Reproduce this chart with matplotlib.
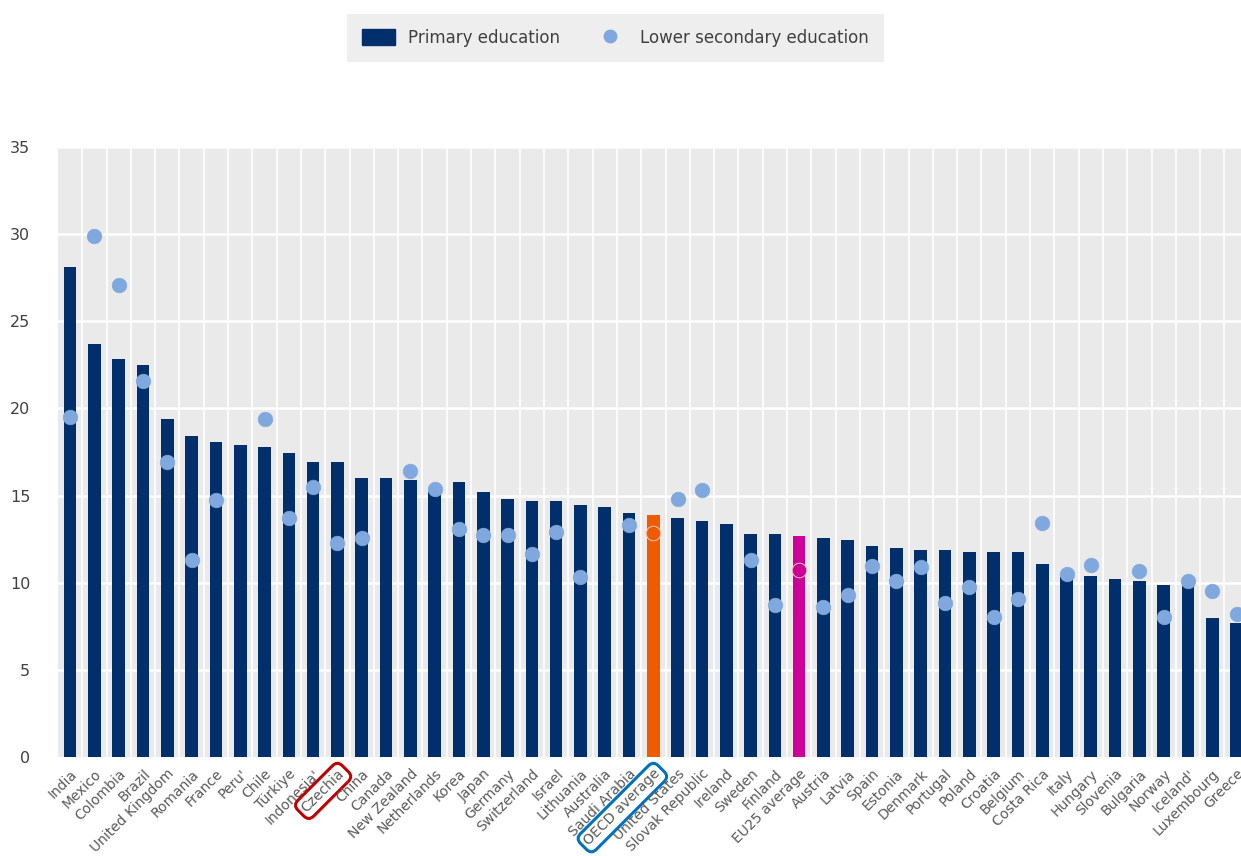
import matplotlib
matplotlib.use("Agg")
import matplotlib.pyplot as plt
import numpy as np
from matplotlib.patches import Patch
from matplotlib.lines import Line2D

# Data
countries = [
    "India", "Mexico", "Colombia", "Brazil", "United Kingdom", "Romania", "France",
    "Peru'", "Chile", "Türkiye", "Indonesia'", "Czechia", "China", "Canada",
    "New Zealand", "Netherlands", "Korea", "Japan", "Germany", "Switzerland",
    "Israel", "Lithuania", "Australia", "Saudi Arabia", "OECD average",
    "United States", "Slovak Republic", "Ireland", "Sweden", "Finland",
    "EU25 average", "Austria", "Latvia", "Spain", "Estonia", "Denmark",
    "Portugal", "Poland", "Croatia", "Belgium", "Costa Rica", "Italy", "Hungary",
    "Slovenia", "Bulgaria", "Norway", "Iceland'", "Luxembourg", "Greece",
]
primary = [
    28.1, 23.7, 22.85, 22.5, 19.4, 18.4, 18.1, 17.9, 17.8, 17.45, 16.9, 16.9,
    16.0, 16.0, 15.9, 15.2, 15.8, 15.2, 14.8, 14.7, 14.7, 14.45, 14.35, 14.0,
    13.9, 13.7, 13.55, 13.35, 12.8, 12.8, 12.7, 12.55, 12.45, 12.1, 12.0, 11.9,
    11.9, 11.75, 11.75, 11.75, 11.1, 10.3, 10.4, 10.2, 10.1, 9.85, 9.8, 7.95, 7.7,
]
lower_secondary = [
    19.5, 29.9, 27.1, 21.6, 16.9, 11.3, 14.75, None, 19.4, 13.7, 15.5, 12.3,
    12.55, None, 16.4, 15.35, 13.1, 12.75, 12.75, 11.65, 12.9, 10.3, None, 13.3,
    12.85, 14.8, 15.3, None, 11.3, 8.7, 10.7, 8.6, 9.3, 10.95, 10.1, 10.9,
    8.85, 9.75, 8.05, 9.05, 13.45, 10.5, 11.0, None, 10.65, 8.05, 10.1, 9.55, 8.2,
]

NAVY = "#002F6C"
LIGHT = "#7FA9DE"
ORANGE = "#F05A00"
MAGENTA = "#CC0099"
highlight = {"OECD average": ORANGE, "EU25 average": MAGENTA}
boxed = {"Czechia": "#C00000", "OECD average": "#0070C0"}

fig = plt.figure(figsize=(12.41, 8.56), dpi=100)
ax = fig.add_axes([0.0467, 0.1157, 0.9533, 0.7126])
ax.set_facecolor("#EAEAEA")

x = np.arange(len(countries))
bar_colors = [highlight.get(c, NAVY) for c in countries]
ax.bar(x, primary, width=0.52, color=bar_colors, zorder=2)

for xi, c, v in zip(x, countries, lower_secondary):
    if v is None:
        continue
    col = highlight.get(c, LIGHT)
    if c in highlight:
        ax.plot(xi, v, "o", ms=10.5, color=col, mec="#F2C9B8", mew=0.7, zorder=3)
    else:
        ax.plot(xi, v, "o", ms=10.5, color=col, mec=col, mew=0.5, zorder=3)

ax.set_xlim(-0.5, 48.18)
ax.set_ylim(0, 35)
ax.set_yticks(range(0, 36, 5))
ax.set_xticks(x)
ax.set_xticklabels(countries, rotation=45, ha="right", rotation_mode="anchor",
                   fontsize=10, color="#5A5A5A")
ax.tick_params(axis="x", length=0, pad=7)
ax.tick_params(axis="y", length=0, pad=20, labelsize=11.5, labelcolor="#404040")

for lbl in ax.get_xticklabels():
    t = lbl.get_text()
    if t in boxed:
        lbl.set_bbox(dict(boxstyle="round,pad=0.3,rounding_size=0.5",
                          fc="none", ec=boxed[t], lw=2.2))

# white grid: horizontal every 5, vertical between categories
for yv in range(5, 36, 5):
    ax.axhline(yv, color="white", lw=1.8, zorder=1)
for xv in np.arange(0.5, len(countries), 1.0):
    ax.axvline(xv, color="white", lw=1.2, zorder=1)
for s in ax.spines.values():
    s.set_visible(False)

handles = [
    Patch(facecolor=NAVY, edgecolor=NAVY, label="Primary education"),
    Line2D([], [], ls="none", marker="o", ms=9, color=LIGHT,
           label="Lower secondary education"),
]
leg = fig.legend(handles=handles, loc="center", bbox_to_anchor=(0.496, 0.956),
                 ncol=2, frameon=True, fontsize=12, handlelength=2.0,
                 handleheight=1.1, columnspacing=2.0, borderpad=0.9,
                 labelcolor="#404040", fancybox=False)
leg.get_frame().set_facecolor("#EAEAEA")
leg.get_frame().set_edgecolor("none")

fig.savefig("out.png", dpi=100)
